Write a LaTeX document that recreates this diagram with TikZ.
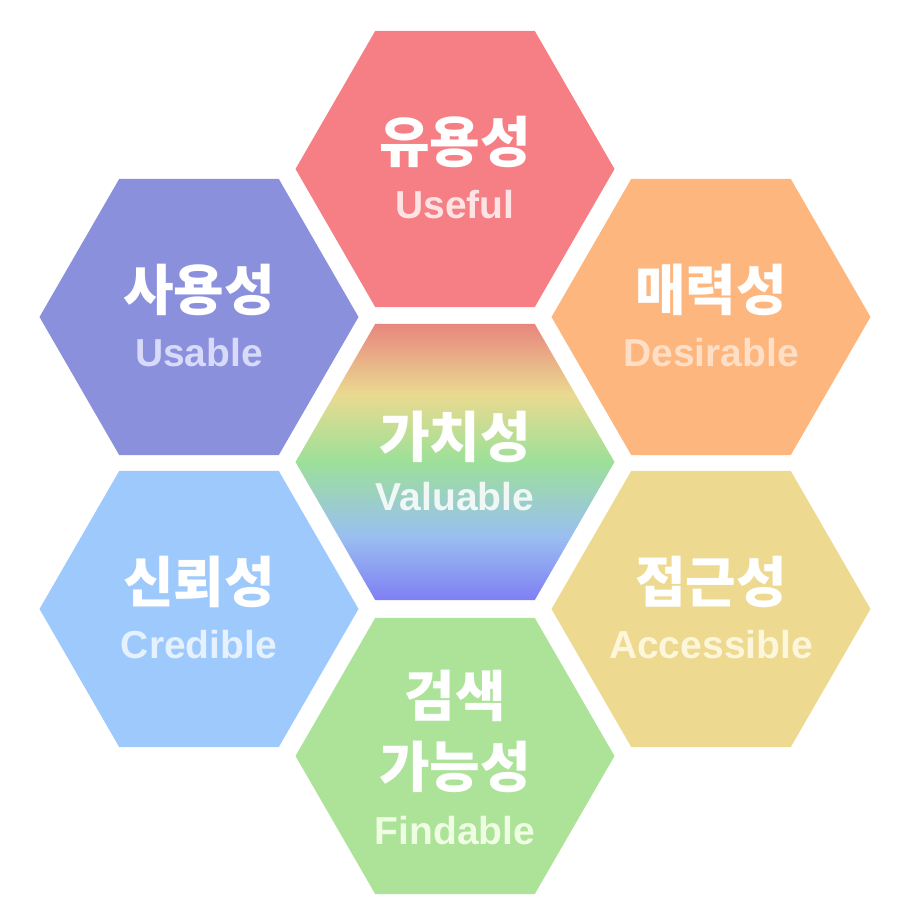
\documentclass[tikz,border=0pt]{standalone}
\usepackage{fontspec}
\usepackage{xcolor}
\usepackage{tikz}
\usetikzlibrary{shapes.geometric,positioning,calc}

\newfontfamily\kofont{Noto Sans CJK KR}
\newfontfamily\enfont{Liberation Sans}

\definecolor{usefulFill}{HTML}{F57F84}
\definecolor{usefulText}{HTML}{FDE3E3}
\definecolor{usableFill}{HTML}{8A90DB}
\definecolor{usableText}{HTML}{D8DAFA}
\definecolor{desirableFill}{HTML}{FDB67E}
\definecolor{desirableText}{HTML}{FEDFC6}
\definecolor{accessibleFill}{HTML}{EDD98F}
\definecolor{accessibleText}{HTML}{FEF6DA}
\definecolor{findableFill}{HTML}{ACE399}
\definecolor{findableText}{HTML}{EFFDE3}
\definecolor{credibleFill}{HTML}{9DC9FC}
\definecolor{credibleText}{HTML}{E6F1FE}
\definecolor{valuableText}{HTML}{F0F8F5}
\definecolor{vRed}{HTML}{E8867E}
\definecolor{vYellow}{HTML}{EADA90}
\definecolor{vGreen}{HTML}{9DE099}
\definecolor{vSky}{HTML}{9ABFF0}
\definecolor{vBlue}{HTML}{7F7FF3}

\pgfdeclareverticalshading{rainbow}{100bp}{color(0bp)=(vBlue); color(25bp)=(vBlue);
  color(36.7bp)=(vSky); color(50.2bp)=(vGreen); color(62.2bp)=(vYellow);
  color(75bp)=(vRed); color(100bp)=(vRed)}

\begin{document}
\begin{tikzpicture}[x=1pt,y=1pt,
  hexa/.style={regular polygon,regular polygon sides=6,minimum size=319pt,
    inner sep=0pt,outer sep=0pt,draw=none},
  ko/.style={font={\kofont\bfseries\fontsize{55}{60}\selectfont},text=white,inner sep=0pt},
  en/.style={font={\enfont\bfseries\fontsize{39}{44}\selectfont},inner sep=0pt}]
  \useasboundingbox (0,0) rectangle (906,916);
  % hexagons
  \node[hexa,fill=usefulFill]     (useful)     at (455,747) {};
  \node[hexa,fill=usableFill]     (usable)     at (199,599) {};
  \node[hexa,fill=desirableFill]  (desirable)  at (711,599) {};
  \node[hexa,shade,shading=rainbow] (valuable) at (455,454) {};
  \node[hexa,fill=credibleFill]   (credible)   at (199,307) {};
  \node[hexa,fill=accessibleFill] (accessible) at (711,307) {};
  \node[hexa,fill=findableFill]   (findable)   at (455,160) {};
  % labels
  \node[ko] (usefulKo) at ([yshift=27pt]useful.center) {유용성};
  \node[en,text=usefulText] (usefulEn) at ([yshift=-36pt]useful.center) {Useful};
  \node[ko] (usableKo) at ([yshift=27pt]usable.center) {사용성};
  \node[en,text=usableText] (usableEn) at ([yshift=-36pt]usable.center) {Usable};
  \node[ko] (desirableKo) at ([yshift=27pt]desirable.center) {매력성};
  \node[en,text=desirableText] (desirableEn) at ([yshift=-36pt]desirable.center) {Desirable};
  \node[ko] (valuableKo) at ([yshift=25pt]valuable.center) {가치성};
  \node[en,text=valuableText] (valuableEn) at ([yshift=-35pt]valuable.center) {Valuable};
  \node[ko] (credibleKo) at ([yshift=27pt]credible.center) {신뢰성};
  \node[en,text=credibleText] (credibleEn) at ([yshift=-36pt]credible.center) {Credible};
  \node[ko] (accessibleKo) at ([yshift=27pt]accessible.center) {접근성};
  \node[en,text=accessibleText] (accessibleEn) at ([yshift=-36pt]accessible.center) {Accessible};
  \node[ko] (findableKoA) at ([yshift=60pt]findable.center) {검색};
  \node[ko] (findableKoB) at ([yshift=-11pt]findable.center) {가능성};
  \node[en,text=findableText] (findableEn) at ([yshift=-75pt]findable.center) {Findable};
\end{tikzpicture}
\end{document}
